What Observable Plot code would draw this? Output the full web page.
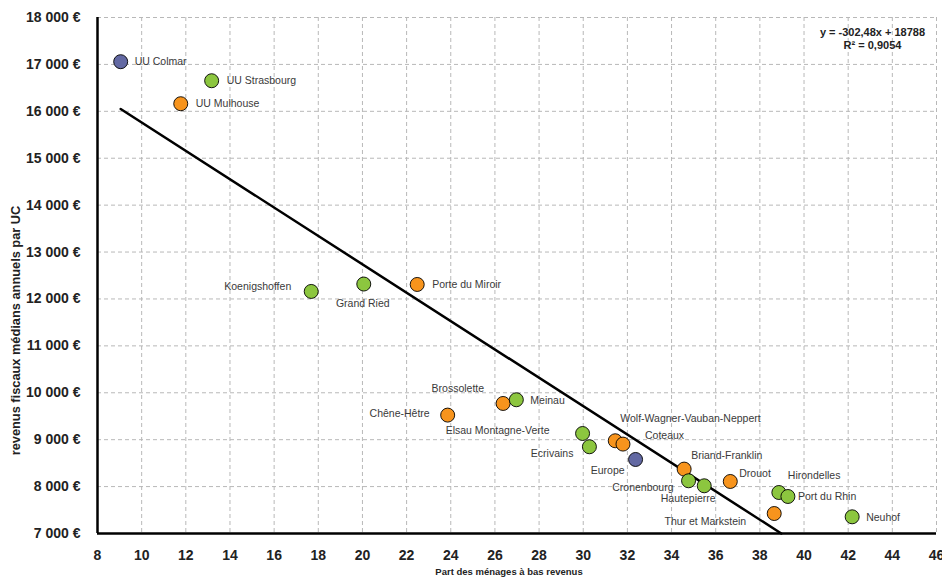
<!DOCTYPE html>
<html>
<head>
<meta charset="utf-8">
<script src="https://cdn.jsdelivr.net/npm/d3@7"></script>
<script src="https://cdn.jsdelivr.net/npm/@observablehq/plot@0.6"></script>
<style>
  html, body { margin: 0; padding: 0; background: #fff; }
  #chart { width: 942px; height: 580px; }
  svg { font-family: "Liberation Sans", Arial, sans-serif; }
  .ticks text { font-family: "Liberation Sans Narrow", "Arial Narrow", "Liberation Sans", sans-serif; }
</style>
</head>
<body>
<div id="chart"></div>
<script>
// ---- Data ----
const names = [
  "UU Colmar", "UU Strasbourg", "UU Mulhouse",
  "Koenigshoffen", "Grand Ried", "Porte du Miroir",
  "Chêne-Hêtre", "Brossolette", "Meinau",
  "Elsau Montagne-Verte", "Ecrivains",
  "Wolf-Wagner-Vauban-Neppert", "Coteaux", "Europe",
  "Briand-Franklin", "Cronenbourg", "Hautepierre", "Drouot",
  "Hirondelles", "Port du Rhin", "Thur et Markstein", "Neuhof"
];
const shareLowIncome = [
  9.05, 13.17, 11.77,
  17.68, 20.06, 22.48,
  23.86, 26.37, 26.97,
  29.97, 30.28,
  31.45, 31.80, 32.37,
  34.57, 34.77, 35.48, 36.66,
  38.86, 39.27, 38.65, 42.18
];
const medianIncome = [
  17058, 16652, 16162,
  12160, 12318, 12309,
  9524, 9772, 9851,
  9132, 8849,
  8977, 8906, 8578,
  8373, 8124, 8017, 8109,
  7874, 7789, 7426, 7356
];
const area = [
  "Colmar", "Strasbourg", "Mulhouse",
  "Strasbourg", "Strasbourg", "Mulhouse",
  "Mulhouse", "Mulhouse", "Strasbourg",
  "Strasbourg", "Strasbourg",
  "Mulhouse", "Mulhouse", "Colmar",
  "Mulhouse", "Strasbourg", "Strasbourg", "Mulhouse",
  "Strasbourg", "Strasbourg", "Mulhouse", "Strasbourg"
];
const areaDomain = ["Colmar", "Strasbourg", "Mulhouse"];
// Trend line as printed on the chart: y = -302,48x + 18788 (R² = 0,9054)
const trendSlope = -302.48;
const trendIntercept = 18788;
const trendRange = [9.05, 38.97];
const xTicks = d3.range(8, 47, 2);
const yTicks = d3.range(7000, 18001, 1000);

// ---- Label placement (layout only) ----
const labelLayout = {
  "UU Colmar": {dx: 14, dy: 0, anchor: "start"},
  "UU Strasbourg": {dx: 15, dy: 0, anchor: "start"},
  "UU Mulhouse": {dx: 15, dy: 0, anchor: "start"},
  "Koenigshoffen": {dx: -20, dy: -5, anchor: "end"},
  "Grand Ried": {dx: -1, dy: 20, anchor: "middle"},
  "Porte du Miroir": {dx: 15, dy: 0, anchor: "start"},
  "Chêne-Hêtre": {dx: -18, dy: -1, anchor: "end"},
  "Brossolette": {dx: -19, dy: -15, anchor: "end"},
  "Meinau": {dx: 14, dy: 1, anchor: "start"},
  "Elsau Montagne-Verte": {dx: -33, dy: -3, anchor: "end"},
  "Ecrivains": {dx: -16, dy: 7, anchor: "end"},
  "Wolf-Wagner-Vauban-Neppert": {dx: 5, dy: -22, anchor: "start"},
  "Coteaux": {dx: 22, dy: -8, anchor: "start"},
  "Europe": {dx: -11, dy: 11, anchor: "end"},
  "Briand-Franklin": {dx: 7, dy: -13, anchor: "start"},
  "Cronenbourg": {dx: -15, dy: 7, anchor: "end"},
  "Hautepierre": {dx: -16, dy: 13, anchor: "middle"},
  "Drouot": {dx: 9, dy: -8, anchor: "start"},
  "Hirondelles": {dx: 9, dy: -17, anchor: "start"},
  "Port du Rhin": {dx: 10, dy: 0, anchor: "start"},
  "Thur et Markstein": {dx: -28, dy: 8, anchor: "end"},
  "Neuhof": {dx: 14, dy: 1, anchor: "start"}
};

const points = names.map((n, i) => ({
  name: n, x: shareLowIncome[i], y: medianIncome[i], area: area[i]
}));
const trend = trendRange.map(x => ({x, y: trendSlope * x + trendIntercept}));

const fmtEuro = d => d3.format(",")(d).replace(/,/g, " ") + " €";

const labelMarks = points.map(p => {
  const L = labelLayout[p.name];
  return Plot.text([p], {
    x: "x", y: "y", text: "name",
    dx: L.dx, dy: L.dy, textAnchor: L.anchor,
    fontSize: 10.5, fill: "#3a3a3a"
  });
});

const chart = Plot.plot({
  width: 942,
  height: 580,
  marginLeft: 97,
  marginRight: 6,
  marginTop: 17,
  marginBottom: 47,
  x: {domain: [8, 46]},
  y: {domain: [7000, 18000]},
  color: {domain: areaDomain, range: ["#6369a3", "#8cc63f", "#f7941d"]},
  marks: [
    Plot.gridX(xTicks, {stroke: "#b8b8b8", strokeOpacity: 1, strokeDasharray: "4,3"}),
    Plot.gridY(yTicks, {stroke: "#b8b8b8", strokeOpacity: 1, strokeDasharray: "4,3"}),
    Plot.axisX(xTicks, {className: "ticks", tickSize: 0, tickPadding: 17, fontSize: 14, fontWeight: "bold", fill: "#222", label: null, tickFormat: d => String(d)}),
    Plot.axisY(yTicks, {className: "ticks", tickSize: 0, tickPadding: 17, fontSize: 14, fontWeight: "bold", fill: "#222", label: null, tickFormat: fmtEuro}),
    Plot.line(trend, {x: "x", y: "y", stroke: "#000", strokeWidth: 2.5}),
    Plot.ruleX([8], {stroke: "#000", strokeWidth: 2.5}),
    Plot.ruleY([7000], {stroke: "#000", strokeWidth: 2.5}),
    Plot.dot(points, {x: "x", y: "y", fill: "area", r: 7, stroke: "#000", strokeWidth: 0.9}),
    ...labelMarks,
    Plot.text(["y = -302,48x + 18788\nR² = 0,9054"], {
      frameAnchor: "top-right", dx: -64, dy: 9, textAnchor: "middle", lineAnchor: "top",
      fontSize: 11, fontWeight: "bold", fill: "#222", lineHeight: 1.2
    }),
    Plot.text(["Part des ménages à bas revenus"], {
      frameAnchor: "bottom", dx: -8, dy: 41, textAnchor: "middle", fontSize: 9.5, fontWeight: "bold", fill: "#222"
    }),
    Plot.text(["revenus fiscaux médians annuels par UC"], {
      frameAnchor: "left", dx: -82, dy: 55, textAnchor: "middle", rotate: -90, fontSize: 12.8, fontWeight: "bold", fill: "#222"
    })
  ]
});
document.getElementById("chart").appendChild(chart);
</script>
</body>
</html>
